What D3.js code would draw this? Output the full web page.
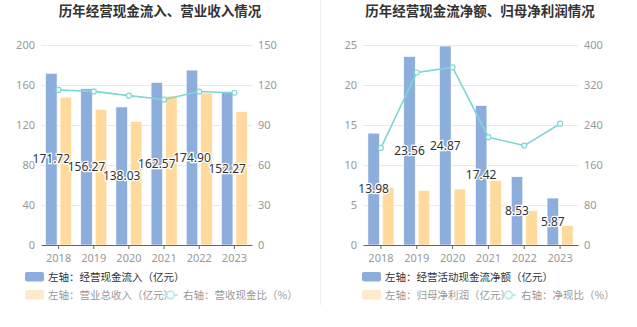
<!DOCTYPE html>
<html><head><meta charset="utf-8">
<script src="https://cdn.jsdelivr.net/npm/d3@7"></script>
<style>body{margin:0;background:#fff;font-family:"Noto Sans CJK SC","Noto Sans",sans-serif;}</style>
</head><body>
<svg id="c" width="637" height="327"></svg>
<script>
const years = ["2018","2019","2020","2021","2022","2023"];
// Left chart
const cashInflow = [171.72,156.27,138.03,162.57,174.90,152.27];
const revenue = [147.7,135.7,123.3,149.0,152.0,133.3];
const cashRevenueRatio = [116.3,115.2,112.0,109.1,115.1,114.2];
const leftTicksL = [0,40,80,120,160,200];
const leftTicksR = [0,30,60,90,120,150];
// Right chart
const netCashFlow = [13.98,23.56,24.87,17.42,8.53,5.87];
const netProfit = [7.2,6.83,7.0,8.08,4.29,2.42];
const netCashRatio = [194.2,345.0,355.3,215.6,198.8,242.6];
const rightTicksL = [0,5,10,15,20,25];
const rightTicksR = [0,80,160,240,320,400];

const svg = d3.select("#c");
const BLUE="#8DAEDC", YEL="#FFDA9C", LINE="#7FD6D6";

svg.append("line").attr("x1",320.5).attr("x2",320.5).attr("y1",0).attr("y2",305).attr("stroke","#EEEEEE");

function chart(cfg){
  const g = svg.append("g");
  const x = d3.scaleBand().domain(years).range([cfg.x0,cfg.x1]);
  const yL = d3.scaleLinear().domain([0,cfg.ticksL[cfg.ticksL.length-1]]).range([245,45]);
  const yR = d3.scaleLinear().domain([0,cfg.ticksR[cfg.ticksR.length-1]]).range([245,45]);
  g.append("text").attr("x",cfg.tx).attr("y",16).attr("text-anchor","middle")
    .attr("font-size",13.5).attr("font-weight","bold").attr("fill","#333").text(cfg.title);
  // grid
  g.selectAll(".gl").data(cfg.ticksL.slice(1)).join("line")
    .attr("x1",cfg.x0).attr("x2",cfg.x1).attr("y1",d=>Math.round(yL(d))+0.5).attr("y2",d=>Math.round(yL(d))+0.5)
    .attr("stroke","#E6E9F4");
  g.selectAll(".tl").data(cfg.ticksL).join("text")
    .attr("x",cfg.x0-6).attr("y",d=>yL(d)+4).attr("text-anchor","end").attr("font-size",11).attr("fill","#999")
    .attr("font-family","Noto Sans, sans-serif").text(d=>d);
  g.selectAll(".tr").data(cfg.ticksR).join("text")
    .attr("x",cfg.x1+6).attr("y",(d,i)=>yL(cfg.ticksL[i])+4).attr("text-anchor","start").attr("font-size",11).attr("fill","#999")
    .attr("font-family","Noto Sans, sans-serif").text(d=>d);
  const bw = 11.5, gap = 3;
  const xc = d=>x(d)+x.bandwidth()/2;
  g.selectAll(".b1").data(cfg.bar1).join("rect")
    .attr("x",(d,i)=>xc(years[i])-gap/2-bw).attr("width",bw)
    .attr("y",d=>yL(d)).attr("height",d=>245-yL(d)).attr("fill",BLUE).attr("stroke","#fff").attr("stroke-width",0.6);
  g.selectAll(".b2").data(cfg.bar2).join("rect")
    .attr("x",(d,i)=>xc(years[i])+gap/2).attr("width",bw)
    .attr("y",d=>yL(d)).attr("height",d=>245-yL(d)).attr("fill",YEL).attr("stroke","#fff").attr("stroke-width",0.6);
  // axis
  const ax = g.append("g").attr("transform","translate(0,245)").call(d3.axisBottom(x).tickSize(4).tickSizeOuter(0));
  ax.select(".domain").attr("stroke","#666");
  ax.selectAll(".tick line").attr("stroke","#666");
  ax.selectAll(".tick text").attr("fill","#999").attr("font-size",11).attr("font-family","Noto Sans, sans-serif").attr("dy","0.9em");
  // line
  const ln = d3.line().x((d,i)=>xc(years[i])).y(d=>yR(d));
  g.append("path").datum(cfg.ratio).attr("d",ln).attr("fill","none").attr("stroke",LINE).attr("stroke-width",1.6);
  g.selectAll(".pt").data(cfg.ratio).join("circle")
    .attr("cx",(d,i)=>xc(years[i])).attr("cy",d=>yR(d)).attr("r",2.5).attr("fill","#fff").attr("stroke",LINE).attr("stroke-width",1.2);
  // labels
  g.selectAll(".lb").data(cfg.bar1).join("text")
    .attr("x",(d,i)=>xc(years[i])-gap/2-bw/2).attr("y",d=>(yL(d)+245)/2+4)
    .attr("text-anchor","middle").attr("font-size",12).attr("fill","#333")
    .attr("stroke","#fff").attr("stroke-width",2.5).attr("paint-order","stroke")
    .attr("font-family","Noto Sans, sans-serif").text(d=>d.toFixed(2));
  // legend
  const lx = cfg.lx, fs = 10.5;
  g.append("rect").attr("x",lx).attr("y",272).attr("width",19).attr("height",9.5).attr("rx",2).attr("fill",BLUE);
  g.append("text").attr("x",lx+23).attr("y",280.5).attr("font-size",fs).attr("fill","#333").text(cfg.leg1);
  g.append("rect").attr("x",lx).attr("y",290).attr("width",19).attr("height",9.5).attr("rx",2).attr("fill","#FFEBCC");
  g.append("text").attr("x",lx+23).attr("y",298.5).attr("font-size",fs).attr("fill","#999").text(cfg.leg2);
  const l3 = lx + cfg.l3off;
  g.append("line").attr("x1",l3).attr("x2",l3+15).attr("y1",295).attr("y2",295).attr("stroke","#B3E6E6").attr("stroke-width",1.5);
  g.append("circle").attr("cx",l3+7.5).attr("cy",295).attr("r",3.8).attr("fill","#fff").attr("stroke","#B3E6E6").attr("stroke-width",1.5);
  g.append("text").attr("x",l3+20).attr("y",298.5).attr("font-size",fs).attr("fill","#999").text(cfg.leg3);
}

chart({x0:41,x1:252,tx:160,title:"历年经营现金流入、营业收入情况",ticksL:leftTicksL,ticksR:leftTicksR,
  bar1:cashInflow,bar2:revenue,ratio:cashRevenueRatio,lx:25,l3off:138,
  leg1:"左轴：经营现金流入（亿元）",leg2:"左轴：营业总收入（亿元）",leg3:"右轴：营收现金比（%）"});
chart({x0:363,x1:578,tx:480,title:"历年经营现金流净额、归母净利润情况",ticksL:rightTicksL,ticksR:rightTicksR,
  bar1:netCashFlow,bar2:netProfit,ratio:netCashRatio,lx:362,l3off:139,
  leg1:"左轴：经营活动现金流净额（亿元）",leg2:"左轴：归母净利润（亿元）",leg3:"右轴：净现比（%）"});
</script>
</body></html>
